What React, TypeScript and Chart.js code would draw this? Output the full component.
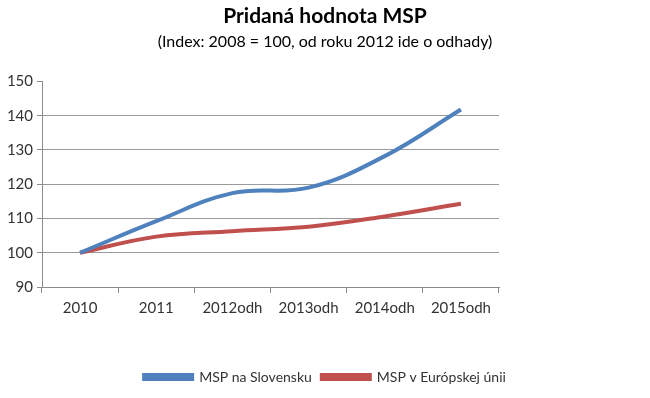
import React, { useEffect, useRef } from "react";
import { Chart, registerables } from "chart.js";

Chart.register(...registerables);

const categories = ["2010", "2011", "2012odh", "2013odh", "2014odh", "2015odh"];
const slovakiaValues = [100, 109.2, 117.4, 119, 128.2, 141.8];
const euValues = [100, 104.7, 106.3, 107.6, 110.6, 114.3];
const seriesNames = ["MSP na Slovensku", "MSP v Európskej únii"];
const titleText = "Pridaná hodnota MSP";
const subtitleText = "(Index: 2008 = 100, od roku 2012 ide o odhady)";
const yMin = 90;
const yMax = 150;
const yStep = 10;

const FONT = "Lato, 'Open Sans', sans-serif";

export default function App() {
  const ref = useRef<HTMLCanvasElement | null>(null);
  useEffect(() => {
    if (!ref.current) return;
    const chart = new Chart(ref.current, {
      type: "line",
      data: {
        labels: categories,
        datasets: [
          {
            label: seriesNames[0],
            data: slovakiaValues,
            borderColor: "#4f81bd",
            backgroundColor: "#4f81bd",
            borderWidth: 4,
            pointRadius: 0,
            tension: 0.4,
            yAxisID: "y",
          },
          {
            label: seriesNames[1],
            data: euValues,
            borderColor: "#c0504d",
            backgroundColor: "#c0504d",
            borderWidth: 4,
            pointRadius: 0,
            tension: 0.4,
            yAxisID: "y",
          },
        ],
      },
      options: {
        animation: false,
        responsive: false,
        maintainAspectRatio: false,
        layout: { padding: { left: 0, right: 0, top: 0, bottom: 4 } },
        plugins: {
          title: {
            display: true,
            text: titleText,
            color: "#000",
            font: { family: FONT, size: 21, weight: "bold" },
            padding: { top: 4, bottom: 2 },
          },
          subtitle: {
            display: true,
            text: subtitleText,
            color: "#000",
            font: { family: FONT, size: 16 },
            padding: { top: 1, bottom: 30 },
          },
          legend: {
            display: true,
            position: "bottom",
            labels: {
              boxWidth: 48,
              boxHeight: 4,
              color: "#333",
              font: { family: FONT, size: 14 },
              padding: 10,
            },
          },
          tooltip: { enabled: false },
        },
        scales: {
          x: {
            offset: true,
            grid: {
              offset: true,
              drawOnChartArea: false,
              drawTicks: true,
              tickLength: 6,
              tickColor: "#8c8c8c",
            },
            border: { display: true, color: "#8c8c8c", width: 1 },
            ticks: {
              color: "#333",
              font: { family: FONT, size: 15 },
              padding: 6,
              maxRotation: 0,
            },
            afterFit: (s: any) => {
              s.height = 73;
            },
          },
          y: {
            min: yMin,
            max: yMax,
            ticks: {
              stepSize: yStep,
              color: "#333",
              font: { family: FONT, size: 15 },
              padding: 4,
            },
            grid: {
              color: (ctx: any) =>
                ctx.tick && (ctx.tick.value === yMax || ctx.tick.value === yMin)
                  ? "rgba(0,0,0,0)"
                  : "#9a9a9a",
              tickColor: "#8c8c8c",
              tickLength: 5,
              lineWidth: 1,
            },
            border: { display: true, color: "#8c8c8c", width: 1 },
            afterFit: (s: any) => {
              s.width = 42;
            },
          },
          spacer: {
            type: "linear",
            position: "right",
            display: true,
            grid: { display: false, drawTicks: false },
            border: { display: false },
            ticks: { display: false },
            afterFit: (s: any) => {
              s.width = 151;
            },
          },
        },
      },
    });
    return () => chart.destroy();
  }, []);
  return (
    <div style={{ position: "fixed", left: 0, top: 0, width: 650, height: 398, background: "#fff" }}>
      <canvas ref={ref} width={650} height={398} style={{ width: 650, height: 398, display: "block" }} />
    </div>
  );
}
